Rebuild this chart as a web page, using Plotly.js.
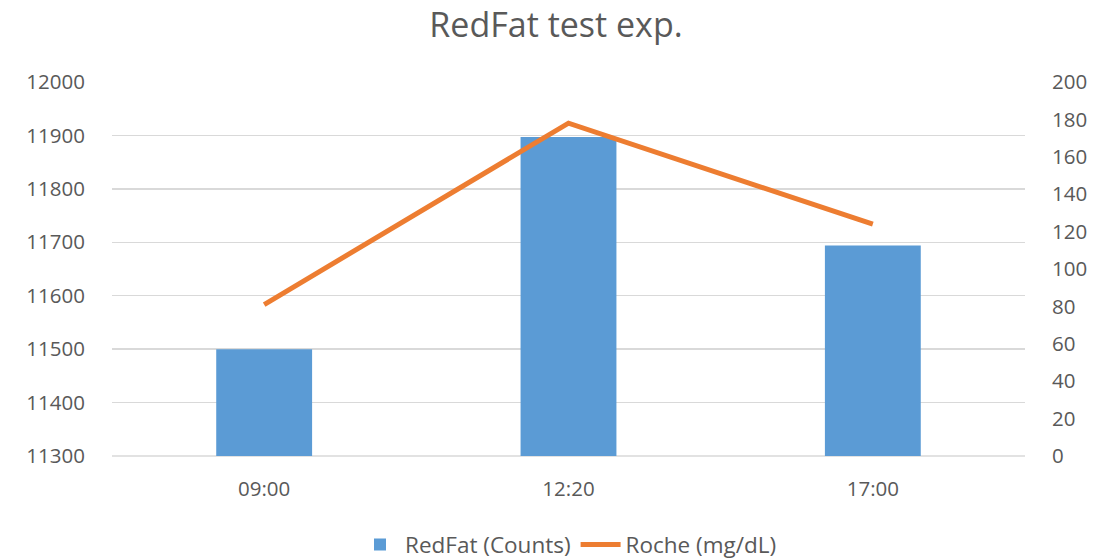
<!DOCTYPE html>
<html>
<head>
<meta charset="utf-8">
<script src="https://cdn.plot.ly/plotly-3.0.1.min.js"></script>
<style>html,body{margin:0;padding:0;background:#fff;}#chart{width:1112px;height:560px;}</style>
</head>
<body>
<div id="chart"></div>
<script>
const categories = ["09:00", "12:20", "17:00"];
const redFatCounts = [11500, 11897, 11694];
const rocheMgDl = [81, 178, 124];
const leftTicks = [11300, 11400, 11500, 11600, 11700, 11800, 11900, 12000];
const rightTicks = [0, 20, 40, 60, 80, 100, 120, 140, 160, 180, 200];

const FONT = "Open Sans, DejaVu Sans, sans-serif";
const TXT = "#595959";

const data = [
  {
    type: "bar", name: "RedFat (Counts)", x: categories, y: redFatCounts,
    marker: {color: "#5B9BD5"}, yaxis: "y"
  },
  {
    type: "scatter", mode: "lines", name: "Roche (mg/dL)", x: categories, y: rocheMgDl,
    line: {color: "#ED7D31", width: 5}, yaxis: "y2"
  }
];

const layout = {
  width: 1112, height: 560,
  margin: {l: 112, r: 87, t: 82, b: 104},
  paper_bgcolor: "#fff", plot_bgcolor: "#fff",
  font: {family: FONT, color: TXT, size: 20.5},
  title: {text: "RedFat test exp.", font: {family: FONT, size: 34, color: TXT},
          x: 0.5, xanchor: "center", y: 0.955, yanchor: "middle", yref: "container"},
  bargap: 0.685,
  showlegend: true,
  legend: {orientation: "h", x: 0.5, xanchor: "center", y: 0.027, yanchor: "middle", yref: "container",
           font: {family: FONT, size: 22.5, color: TXT}, traceorder: "normal", itemwidth: 40},
  xaxis: {
    type: "category", showgrid: false, zeroline: false, showline: false,
    ticks: "outside", ticklen: 14, tickcolor: "rgba(0,0,0,0)",
    tickfont: {family: FONT, size: 20.5, color: TXT}, fixedrange: true
  },
  yaxis: {
    range: [11300, 12000], tickvals: leftTicks, ticktext: leftTicks.map(String),
    showgrid: true, gridcolor: "#d9d9d9", gridwidth: 1.3, zeroline: false, showline: false,
    ticks: "outside", ticklen: 22, tickcolor: "rgba(0,0,0,0)",
    tickfont: {family: FONT, size: 20.5, color: TXT}
  },
  yaxis2: {
    range: [0, 200], tickvals: rightTicks, ticktext: rightTicks.map(String),
    overlaying: "y", side: "right", showgrid: false, zeroline: false, showline: false,
    ticks: "outside", ticklen: 22, tickcolor: "rgba(0,0,0,0)",
    tickfont: {family: FONT, size: 20.5, color: TXT}
  },
  shapes: [
    {type: "line", xref: "paper", yref: "paper", x0: 0, x1: 1, y0: 0, y1: 0,
     line: {color: "#d9d9d9", width: 1.3}, layer: "below"}
  ]
};

Plotly.newPlot("chart", data, layout, {displayModeBar: false, staticPlot: true});
</script>
</body>
</html>
